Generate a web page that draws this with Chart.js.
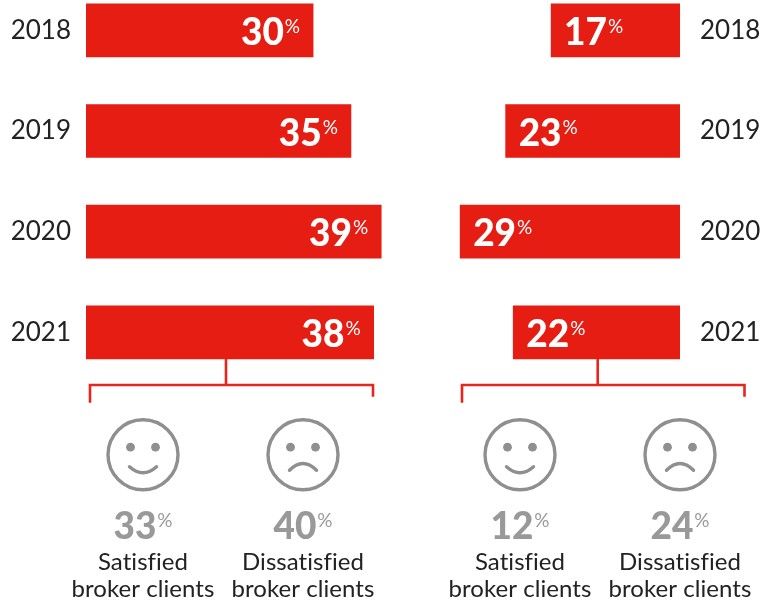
<!DOCTYPE html>
<html>
<head>
<meta charset="utf-8">
<title>Broker clients</title>
<script src="https://cdn.jsdelivr.net/npm/chart.js@4"></script>
<style>
  html, body { margin: 0; padding: 0; background: #fff; overflow: hidden; }
  #page { position: relative; width: 761px; height: 602px; overflow: hidden; }
  canvas { position: absolute; top: -20px; }
  #left-chart { left: 0; }
  #right-chart { left: 400px; }
</style>
</head>
<body>
<div id="page">
  <canvas id="left-chart"></canvas>
  <canvas id="right-chart"></canvas>
</div>
<script>
const years = ['2018', '2019', '2020', '2021']
const leftValues = [30, 35, 39, 38]
const rightValues = [17, 23, 29, 22]
const leftSatisfied = 33
const leftDissatisfied = 40
const rightSatisfied = 12
const rightDissatisfied = 24
const satisfiedLines = ['Satisfied', 'broker clients']
const dissatisfiedLines = ['Dissatisfied', 'broker clients']

const red = '#e51d13'
const grey = '#999999'
const faceGrey = '#8f8f8f'
const dark = '#222222'
const fontName = 'Lato'
const offsetTop = 20 // canvases sit 20px above the page

function drawPercent(ctx, text, x, y, color, side) {
  // big number with a small raised percent sign
  ctx.fillStyle = color
  ctx.textBaseline = 'alphabetic'
  ctx.textAlign = 'left'
  ctx.font = '900 37px ' + fontName
  let numWidth = ctx.measureText(text).width
  ctx.font = '400 19px ' + fontName
  let pctWidth = ctx.measureText('%').width
  let startX = x
  if (side == 'end') startX = x - numWidth - pctWidth - 1
  if (side == 'center') startX = x - (numWidth + pctWidth + 1) / 2
  ctx.font = '900 37px ' + fontName
  ctx.fillText(text, startX, y + 13)
  ctx.font = '400 19px ' + fontName
  ctx.fillText('%', startX + numWidth + 1, y + 1)
}

function drawFace(ctx, cx, cy, happy) {
  ctx.strokeStyle = faceGrey
  ctx.fillStyle = faceGrey
  ctx.lineWidth = 3.4
  ctx.lineCap = 'butt'
  ctx.beginPath()
  ctx.arc(cx, cy, 35, 0, Math.PI * 2)
  ctx.stroke()
  for (const dx of [-12.5, 12.5]) {
    ctx.beginPath()
    ctx.arc(cx + dx, cy - 7.5, 4.4, 0, Math.PI * 2)
    ctx.fill()
  }
  ctx.lineCap = 'round'
  ctx.beginPath()
  if (happy) {
    ctx.moveTo(cx - 13.5, cy + 12)
    ctx.quadraticCurveTo(cx, cy + 24, cx + 13.5, cy + 12)
  } else {
    ctx.moveTo(cx - 13.5, cy + 15.5)
    ctx.quadraticCurveTo(cx, cy + 2, cx + 13.5, cy + 15.5)
  }
  ctx.stroke()
}

function drawBlock(ctx, cx, value, happy, lines) {
  drawFace(ctx, cx, 454.7, happy)
  drawPercent(ctx, String(value), cx, 526, grey, 'center')
  ctx.fillStyle = dark
  ctx.font = '400 24px ' + fontName
  ctx.letterSpacing = '0.05px' // keeps the "fi" as two letters
  ctx.textAlign = 'center'
  ctx.textBaseline = 'middle'
  ctx.fillText(lines[0], cx, 562)
  ctx.fillText(lines[1], cx, 589)
  ctx.letterSpacing = '0px'
}

function drawBracket(ctx, stemX, left, right) {
  ctx.strokeStyle = '#e8251c'
  ctx.lineWidth = 2.6
  ctx.lineCap = 'butt'
  ctx.beginPath()
  ctx.moveTo(stemX, 359)
  ctx.lineTo(stemX, 385)
  ctx.moveTo(left, 402.7)
  ctx.lineTo(left, 385)
  ctx.lineTo(right, 385)
  ctx.lineTo(right, 396.7)
  ctx.stroke()
}

const leftLabels = {
  id: 'leftLabels',
  afterDatasetsDraw(chart) {
    const ctx = chart.ctx
    ctx.save()
    chart.getDatasetMeta(0).data.forEach((bar, i) => {
      drawPercent(ctx, String(leftValues[i]), bar.x - 13, bar.y + 1.5, '#fff', 'end')
    })
    ctx.translate(0, offsetTop)
    drawBracket(ctx, 226, 90, 373)
    drawBlock(ctx, 143, leftSatisfied, true, satisfiedLines)
    drawBlock(ctx, 303, leftDissatisfied, false, dissatisfiedLines)
    ctx.restore()
  }
}

const rightLabels = {
  id: 'rightLabels',
  afterDatasetsDraw(chart) {
    const ctx = chart.ctx
    ctx.save()
    chart.getDatasetMeta(0).data.forEach((bar, i) => {
      drawPercent(ctx, String(rightValues[i]), bar.x + 13, bar.y + 1.5, '#fff', 'start')
    })
    ctx.translate(-400, offsetTop)
    drawBracket(ctx, 597.7, 462, 744.5)
    drawBlock(ctx, 520, rightSatisfied, true, satisfiedLines)
    drawBlock(ctx, 680, rightDissatisfied, false, dissatisfiedLines)
    ctx.restore()
  }
}

function makeChart(id, values, width, padding, yPosition, yWidth, tickPad, xMax, reverse, plugin) {
  const canvas = document.getElementById(id)
  canvas.width = width
  canvas.height = 622
  canvas.style.width = width + 'px'
  canvas.style.height = '622px'
  return new Chart(canvas, {
    type: 'bar',
    data: {
      labels: years,
      datasets: [{ data: values, backgroundColor: red, barThickness: 53 }]
    },
    options: {
      indexAxis: 'y',
      responsive: false,
      animation: false,
      layout: { padding: padding },
      plugins: { legend: { display: false }, tooltip: { enabled: false } },
      scales: {
        x: { display: false, min: 0, max: xMax, reverse: reverse },
        y: {
          position: yPosition,
          grid: { display: false, drawTicks: false },
          border: { display: false },
          afterFit(scale) {
            scale.width = yWidth
            scale.paddingTop = 0
            scale.paddingBottom = 0
          },
          ticks: {
            color: dark,
            crossAlign: 'center',
            padding: tickPad,
            font: { family: fontName, size: 26 }
          }
        }
      }
    },
    plugins: [plugin]
  })
}

makeChart('left-chart', leftValues, 400, { top: 0, right: 11.2, bottom: 219.3, left: 0 }, 'left', 86, 15, 40, false, leftLabels)
makeChart('right-chart', rightValues, 361, { top: 0, right: 0, bottom: 219.3, left: 37.4 }, 'right', 81, 20, 32, true, rightLabels)
</script>
</body>
</html>
